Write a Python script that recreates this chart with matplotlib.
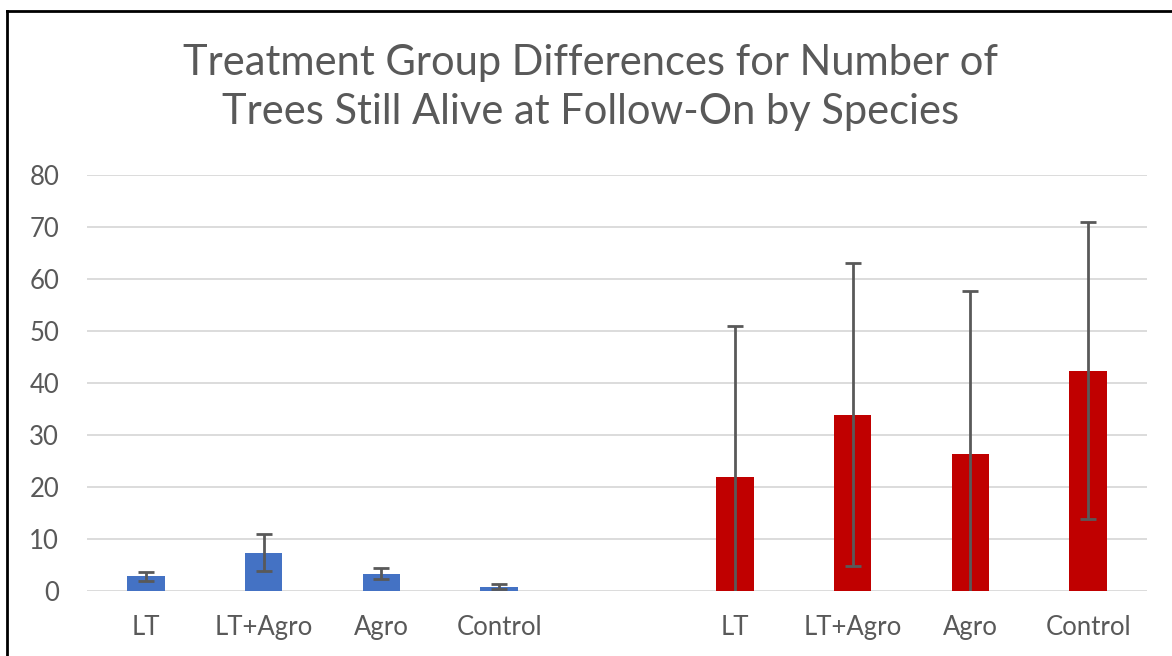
import matplotlib
matplotlib.use("Agg")
import matplotlib.pyplot as plt
from matplotlib.lines import Line2D

plt.rcParams['font.family'] = ['Lato', 'DejaVu Sans']

# Data
blue_categories = ["LT", "LT+Agro", "Agro", "Control"]
blue_values = [2.8, 7.4, 3.3, 0.8]
blue_errors = [0.9, 3.5, 1.05, 0.5]

red_categories = ["LT", "LT+Agro", "Agro", "Control"]
red_values = [22.0, 33.9, 26.3, 42.4]
red_errors = [29.0, 29.1, 31.4, 28.6]

yticks = [0, 10, 20, 30, 40, 50, 60, 70, 80]
title = "Treatment Group Differences for Number of\nTrees Still Alive at Follow-On by Species"

BLUE = "#4472C4"
RED = "#C00000"
GRAY = "#595959"
GRID = "#D9D9D9"

fig = plt.figure(figsize=(11.72, 6.56), dpi=100)
ax = fig.add_axes([0.0742, 0.0991, 0.9045, 0.6341])

bx = list(range(len(blue_categories)))
rx = [len(blue_categories) + 1 + i for i in range(len(red_categories))]
width = 0.32

ax.bar(bx, blue_values, width=width, color=BLUE, zorder=2)
ax.bar(rx, red_values, width=width, color=RED, zorder=2)
ekw = dict(fmt='none', ecolor=GRAY, elinewidth=2.0, capsize=5.8, capthick=2.0, zorder=3)
ax.errorbar(bx, blue_values, yerr=blue_errors, **ekw)
ax.errorbar(rx, red_values, yerr=red_errors, **ekw)

ax.set_xlim(-0.5, len(bx) + len(rx) + 0.5)
ax.set_ylim(0, 80)
ax.set_yticks(yticks)
ax.set_xticks(bx + [len(bx)] + rx)
ax.set_xticklabels(blue_categories + [""] + red_categories)
ax.yaxis.grid(True, color=GRID, linewidth=1.3, zorder=0)
ax.set_axisbelow(True)
for s in ax.spines.values():
    s.set_visible(False)
ax.tick_params(axis='both', length=0, colors=GRAY, labelsize=18.5)
ax.tick_params(axis='y', pad=20)
ax.tick_params(axis='x', pad=17)

fig.text(0.5035, 0.866, title, ha='center', va='center', fontsize=30,
         color=GRAY, linespacing=1.36)

# outer border lines (top and left)
fig.add_artist(Line2D([0.006, 1.0], [1 - 11/656, 1 - 11/656], color='black',
                      linewidth=2.0, transform=fig.transFigure))
fig.add_artist(Line2D([7/1172, 7/1172], [0, 1 - 11/656], color='black',
                      linewidth=2.0, transform=fig.transFigure))

fig.savefig("out.png", dpi=100, facecolor='white')
